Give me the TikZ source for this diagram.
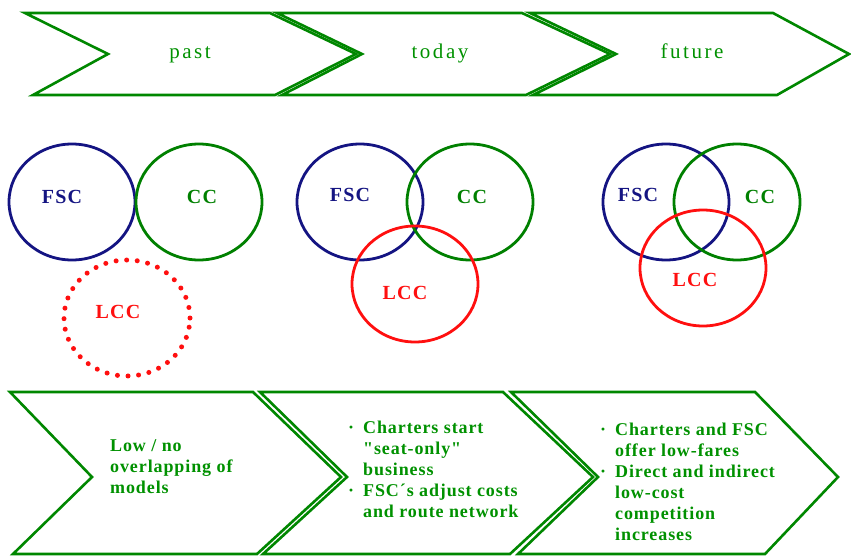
\documentclass[tikz,border=0pt]{standalone}
\usepackage{fontspec}
\usetikzlibrary{shapes.geometric}
\setmainfont{Liberation Serif}
\newfontfamily\headfont[LetterSpace=12]{Liberation Serif}
\newfontfamily\tagfont[LetterSpace=6]{Liberation Serif}
\newfontfamily\notefont[LetterSpace=5]{Liberation Serif}
\definecolor{arrowgreen}{RGB}{0,135,0}
\definecolor{textgreen}{RGB}{0,145,0}
\definecolor{fscblue}{RGB}{20,20,130}
\definecolor{ccgreen}{RGB}{0,128,0}
\definecolor{lccred}{RGB}{255,15,15}
\newcommand\bul{\makebox[15pt][l]{·}}
\newcommand\indt{\hspace*{15pt}}

\tikzset{
  stage/.style={draw=arrowgreen, line width=2.6pt, line join=miter},
  ring/.style={draw, ellipse, line width=2.8pt, minimum width=126pt, minimum height=116pt, inner sep=0pt},
  dotring/.style={ring, line width=5pt, line cap=round, dash pattern=on 0pt off 10.6pt},
  phase/.style={anchor=base, text=textgreen, font=\headfont\fontsize{21pt}{24pt}\selectfont},
  tag/.style={inner sep=0pt, font=\tagfont\bfseries\fontsize{20pt}{24pt}\selectfont},
  note/.style={anchor=base west, align=left, inner sep=0pt, text=textgreen, font=\notefont\bfseries\fontsize{18pt}{21pt}\selectfont}
}

\begin{document}
\begin{tikzpicture}[x=1pt,y=-1pt]
    \useasboundingbox (0,0) rectangle (851,557);

    % time line
    \draw [stage] (25,13) -- (270,13) -- (356,54) -- (275,95) -- (33,95) -- (108,54) -- cycle;
    \draw [stage] (277,13) -- (522,13) -- (610,54) -- (526,95) -- (282,95) -- (362,54) -- cycle;
    \draw [stage] (530,13) -- (773,13) -- (849,54) -- (777,95) -- (533,95) -- (616,54) -- cycle;
    \node [phase] (past) at (190,58) {past};
    \node [phase] (today) at (440,58) {today};
    \node [phase] (future) at (692,58) {future};

    % past
    \node [ring, draw=fscblue] (fscPast) at (72,202) {};
    \node [ring, draw=ccgreen] (ccPast) at (199,202) {};
    \node [dotring, draw=lccred] (lccPast) at (127,318) {};
    \node [tag, fscblue] (fscPastT) at (62,197) {FSC};
    \node [tag, ccgreen] (ccPastT) at (202,197) {CC};
    \node [tag, lccred] (lccPastT) at (118,312) {LCC};

    % today
    \node [ring, draw=fscblue] (fscToday) at (360,202) {};
    \node [ring, draw=ccgreen] (ccToday) at (470,202) {};
    \node [ring, draw=lccred] (lccToday) at (415,284) {};
    \node [tag, fscblue] (fscTodayT) at (350,195) {FSC};
    \node [tag, ccgreen] (ccTodayT) at (472,197) {CC};
    \node [tag, lccred] (lccTodayT) at (405,293) {LCC};

    % future
    \node [ring, draw=fscblue] (fscFuture) at (666,202) {};
    \node [ring, draw=ccgreen] (ccFuture) at (737,202) {};
    \node [ring, draw=lccred] (lccFuture) at (703,268) {};
    \node [tag, fscblue] (fscFutureT) at (638,195) {FSC};
    \node [tag, ccgreen] (ccFutureT) at (760,197) {CC};
    \node [tag, lccred] (lccFutureT) at (695,280) {LCC};

    % what happens in each phase (anchored at the last line)
    \draw [stage] (10,392) -- (253,392) -- (341,477) -- (257,554) -- (13,554) -- (92,477) -- cycle;
    \draw [stage] (260,392) -- (503,392) -- (593,477) -- (510,554) -- (263,554) -- (347,477) -- cycle;
    \draw [stage] (511,392) -- (755,392) -- (838,477) -- (765,554) -- (518,554) -- (598,477) -- cycle;
    \node [note] (pastNote) at (110,493) {Low / no\\overlapping of\\models};
    \node [note] (todayNote) at (348,517)
        {\bul Charters start\\\indt "seat-only"\\\indt business\\\bul FSC´s adjust costs\\\indt and route network};
    \node [note] (futureNote) at (600,540)
        {\bul Charters and FSC\\\indt offer low-fares\\\bul Direct and indirect\\\indt low-cost\\\indt competition\\\indt increases};
\end{tikzpicture}
\end{document}
